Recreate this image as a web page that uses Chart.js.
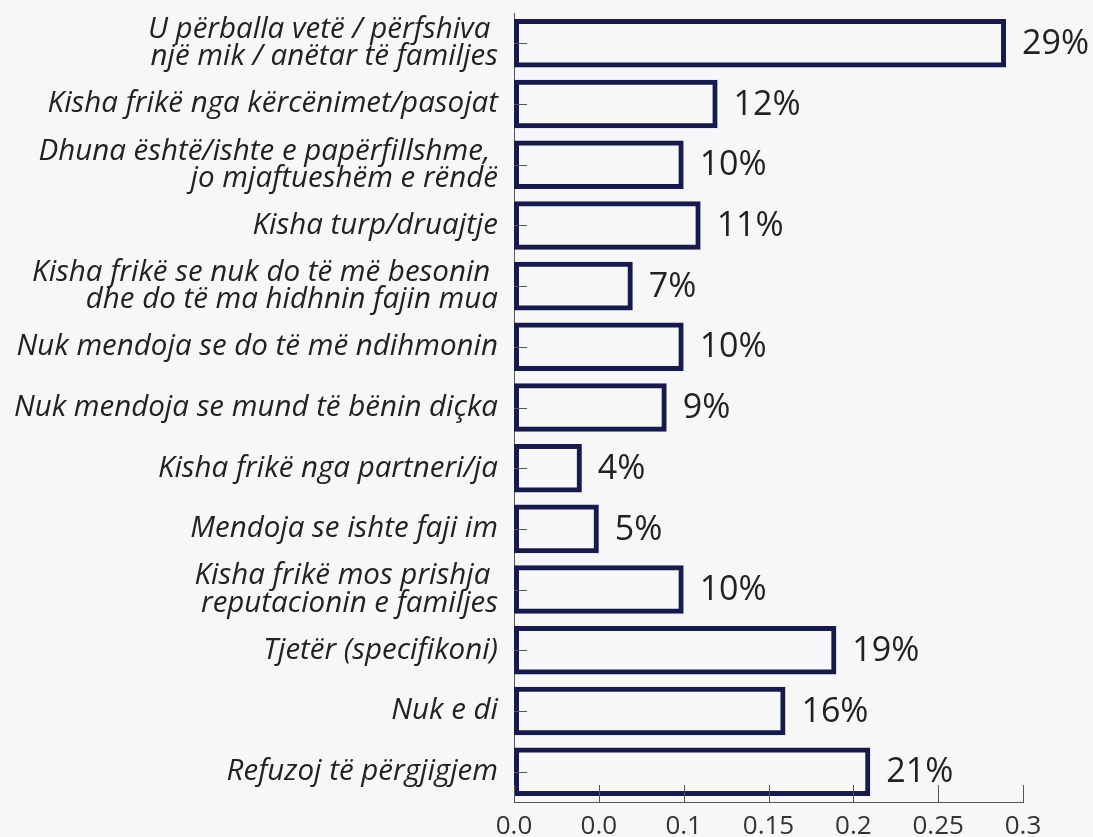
<!DOCTYPE html>
<html>
<head>
<meta charset="utf-8">
<script src="https://cdn.jsdelivr.net/npm/chart.js@4"></script>
<style>
  html, body { margin: 0; padding: 0; background: #f7f7f9; }
  #wrap { width: 1093px; height: 837px; }
</style>
</head>
<body>
<div id="wrap"><canvas id="myBars" width="1093" height="837"></canvas></div>
<script>
const categories = [
    ['U përballa vetë / përfshiva ', 'një mik / anëtar të familjes'],
    'Kisha frikë nga kërcënimet/pasojat',
    ['Dhuna është/ishte e papërfillshme, ', 'jo mjaftueshëm e rëndë'],
    'Kisha turp/druajtje',
    ['Kisha frikë se nuk do të më besonin ', 'dhe do të ma hidhnin fajin mua'],
    'Nuk mendoja se do të më ndihmonin',
    'Nuk mendoja se mund të bënin diçka',
    'Kisha frikë nga partneri/ja',
    'Mendoja se ishte faji im',
    ['Kisha frikë mos prishja ', 'reputacionin e familjes'],
    'Tjetër (specifikoni)',
    'Nuk e di',
    'Refuzoj të përgjigjem'
];
const shares = [0.29, 0.12, 0.10, 0.11, 0.07, 0.10, 0.09, 0.04, 0.05, 0.10, 0.19, 0.16, 0.21];
const valueLabels = ['29%', '12%', '10%', '11%', '7%', '10%', '9%', '4%', '5%', '10%', '19%', '16%', '21%'];
const xTickLabels = ['0.0', '0.0', '0.1', '0.15', '0.2', '0.25', '0.3'];

const navy = '#161b4b';
const axisGray = '#555555';

// background, short inward ticks and value labels
const extras = {
    id: 'extras',
    beforeDraw(chart) {
        const c = chart.ctx;
        c.save();
        c.fillStyle = '#f7f7f9';
        c.fillRect(0, 0, chart.width, chart.height);
        c.restore();
    },
    afterDatasetsDraw(chart) {
        const c = chart.ctx;
        const x = chart.scales.x, y = chart.scales.y;
        c.save();
        c.strokeStyle = axisGray;
        c.lineWidth = 1;
        y.ticks.forEach((t, i) => {
            const py = Math.round(y.getPixelForTick(i)) + 0.5;
            c.beginPath();
            c.moveTo(x.left, py);
            c.lineTo(x.left + 13, py);
            c.stroke();
        });
        x.ticks.forEach((t, i) => {
            const px = Math.round(x.getPixelForTick(i)) + 0.5;
            c.beginPath();
            c.moveTo(px, y.bottom);
            c.lineTo(px, y.bottom - 17);
            c.stroke();
        });
        const meta = chart.getDatasetMeta(0);
        c.fillStyle = '#222222';
        c.font = '34px "Open Sans"';
        c.textAlign = 'left';
        c.textBaseline = 'middle';
        meta.data.forEach((bar, i) => {
            c.fillText(valueLabels[i], bar.x + 16, bar.y + 1);
        });
        c.restore();
    }
};

const ctx = document.getElementById('myBars').getContext('2d');
const myChart = new Chart(ctx, {
    type: 'bar',
    data: {
        labels: categories,
        datasets: [{
            data: shares,
            backgroundColor: 'rgba(0,0,0,0)',
            borderColor: navy,
            borderWidth: 5,
            borderSkipped: false,
            barPercentage: 0.8,
            categoryPercentage: 1.0
        }]
    },
    options: {
        indexAxis: 'y',
        responsive: false,
        animation: false,
        layout: { padding: { top: 13, right: 70, left: 0, bottom: 0 } },
        plugins: {
            legend: { display: false },
            tooltip: { enabled: false }
        },
        scales: {
            x: {
                min: 0,
                max: 0.3,
                grid: { display: false, drawTicks: false },
                border: { display: true, color: axisGray, width: 1 },
                ticks: {
                    stepSize: 0.05,
                    padding: 9,
                    color: '#333333',
                    maxRotation: 0,
                    font: { family: '"Open Sans"', size: 26 },
                    callback: (v, i) => xTickLabels[i]
                },
                afterFit: s => {
                    s.height = 35;
                    s.paddingLeft = 0;
                    s.paddingRight = 0;
                }
            },
            y: {
                grid: { display: false, drawTicks: false },
                border: { display: true, color: axisGray, width: 1 },
                ticks: {
                    padding: 16,
                    color: '#222222',
                    font: { family: '"Open Sans"', size: 29.5, style: 'italic', lineHeight: 0.92 }
                },
                afterFit: s => {
                    s.width = 514;
                    s.paddingTop = 0;
                    s.paddingBottom = 0;
                }
            }
        }
    },
    plugins: [extras]
});
</script>
</body>
</html>
